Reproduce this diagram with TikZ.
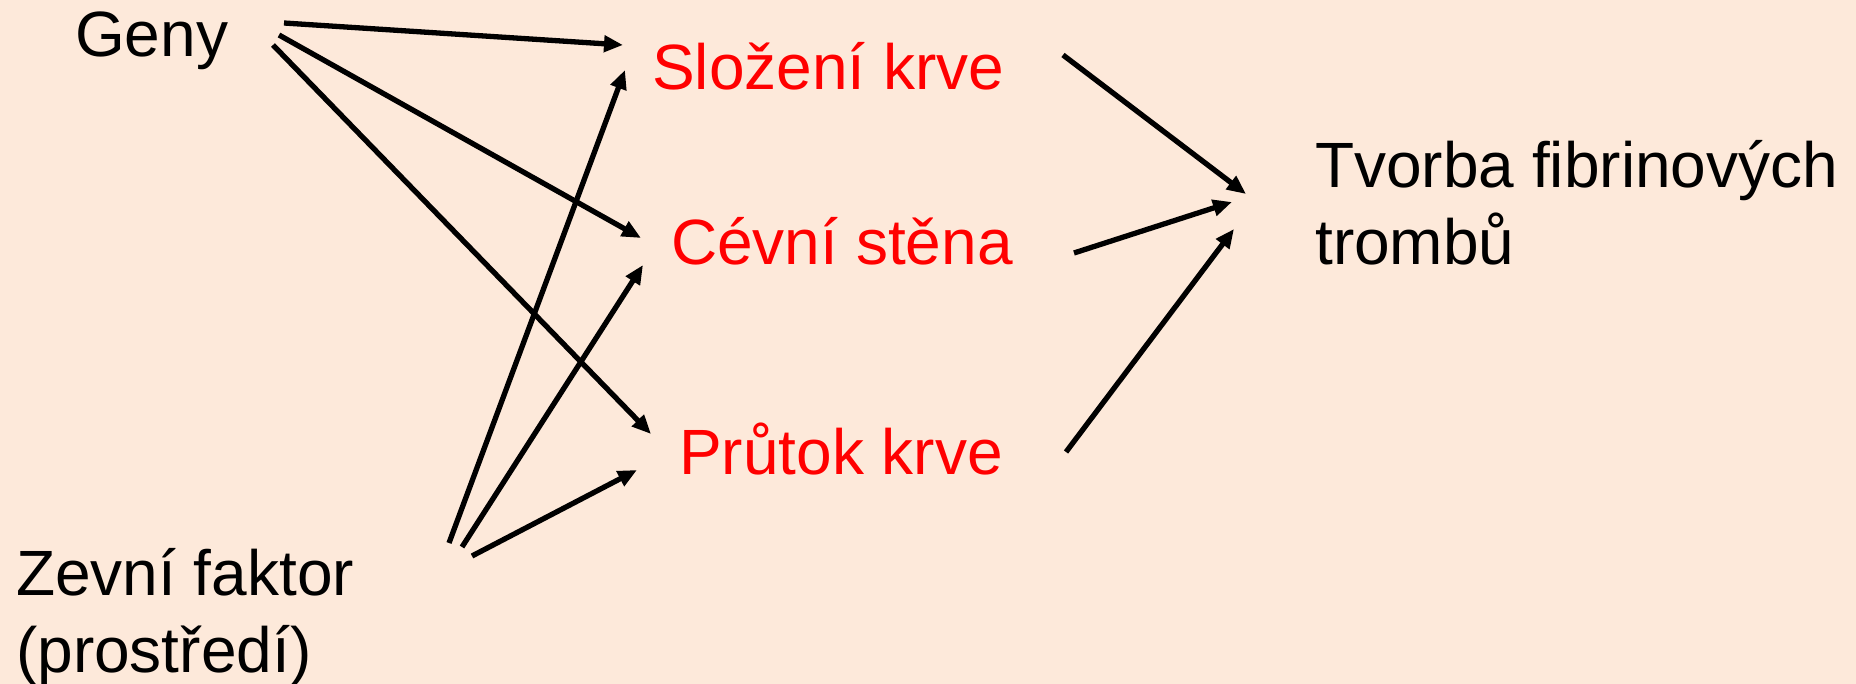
\documentclass[tikz,border=0pt]{standalone}
\usepackage{fontspec}
\setmainfont{Liberation Sans}
\usetikzlibrary{arrows.meta}
\definecolor{bgpeach}{RGB}{253,233,218}
\definecolor{factorred}{RGB}{255,0,0}
\tikzset{
  label/.style={anchor=base west, inner sep=0pt, font=\fontsize{64}{77}\selectfont, align=left},
  factor/.style={label, text=factorred},
  link/.style={line width=5.3pt, -{Triangle[length=19pt,width=16pt]}}
}
\begin{document}
\begin{tikzpicture}[x=1pt,y=-1pt]
  % page with its peach background
  \fill[bgpeach] (0,0) rectangle (1856,684);
  \useasboundingbox (0,0) rectangle (1856,684);

  % causes (two-line nodes are placed by the baseline of their last line)
  \node[label] (geny) at (75,57) {Geny};
  \node[label] (zevni) at (16,672) {Zevní faktor\\(prostředí)};

  % intermediate factors
  \node[factor] (slozeni) at (652,90) {Složení krve};
  \node[factor] (cevni) at (671,265) {Cévní stěna};
  \node[factor] (prutok) at (679,475) {Průtok krve};

  % outcome
  \node[label] (tvorba) at (1315,265) {Tvorba fibrinových\\trombů};

  % genes act on all three factors
  \draw[link] ([shift={(209,-34)}]geny.base west) -- ([shift={(-29,-45)}]slozeni.base west);
  \draw[link] ([shift={(204,-22)}]geny.base west) -- ([shift={(-30,-27)}]cevni.base west);
  \draw[link] ([shift={(198,-12)}]geny.base west) -- ([shift={(-28,-41)}]prutok.base west);

  % external factor acts on all three factors
  \draw[link] ([shift={(433,-129)}]zevni.base west) -- ([shift={(-27,-20)}]slozeni.base west);
  \draw[link] ([shift={(446,-125)}]zevni.base west) -- ([shift={(-28,0)}]cevni.base west);
  \draw[link] ([shift={(456,-116)}]zevni.base west) -- ([shift={(-42,-5)}]prutok.base west);

  % factors lead to thrombus formation
  \draw[link] ([shift={(411,-35)}]slozeni.base west) -- ([shift={(-69,-71)}]tvorba.base west);
  \draw[link] ([shift={(403,-12)}]cevni.base west) -- ([shift={(-83,-63)}]tvorba.base west);
  \draw[link] ([shift={(387,-23)}]prutok.base west) -- ([shift={(-81,-36)}]tvorba.base west);
\end{tikzpicture}
\end{document}
